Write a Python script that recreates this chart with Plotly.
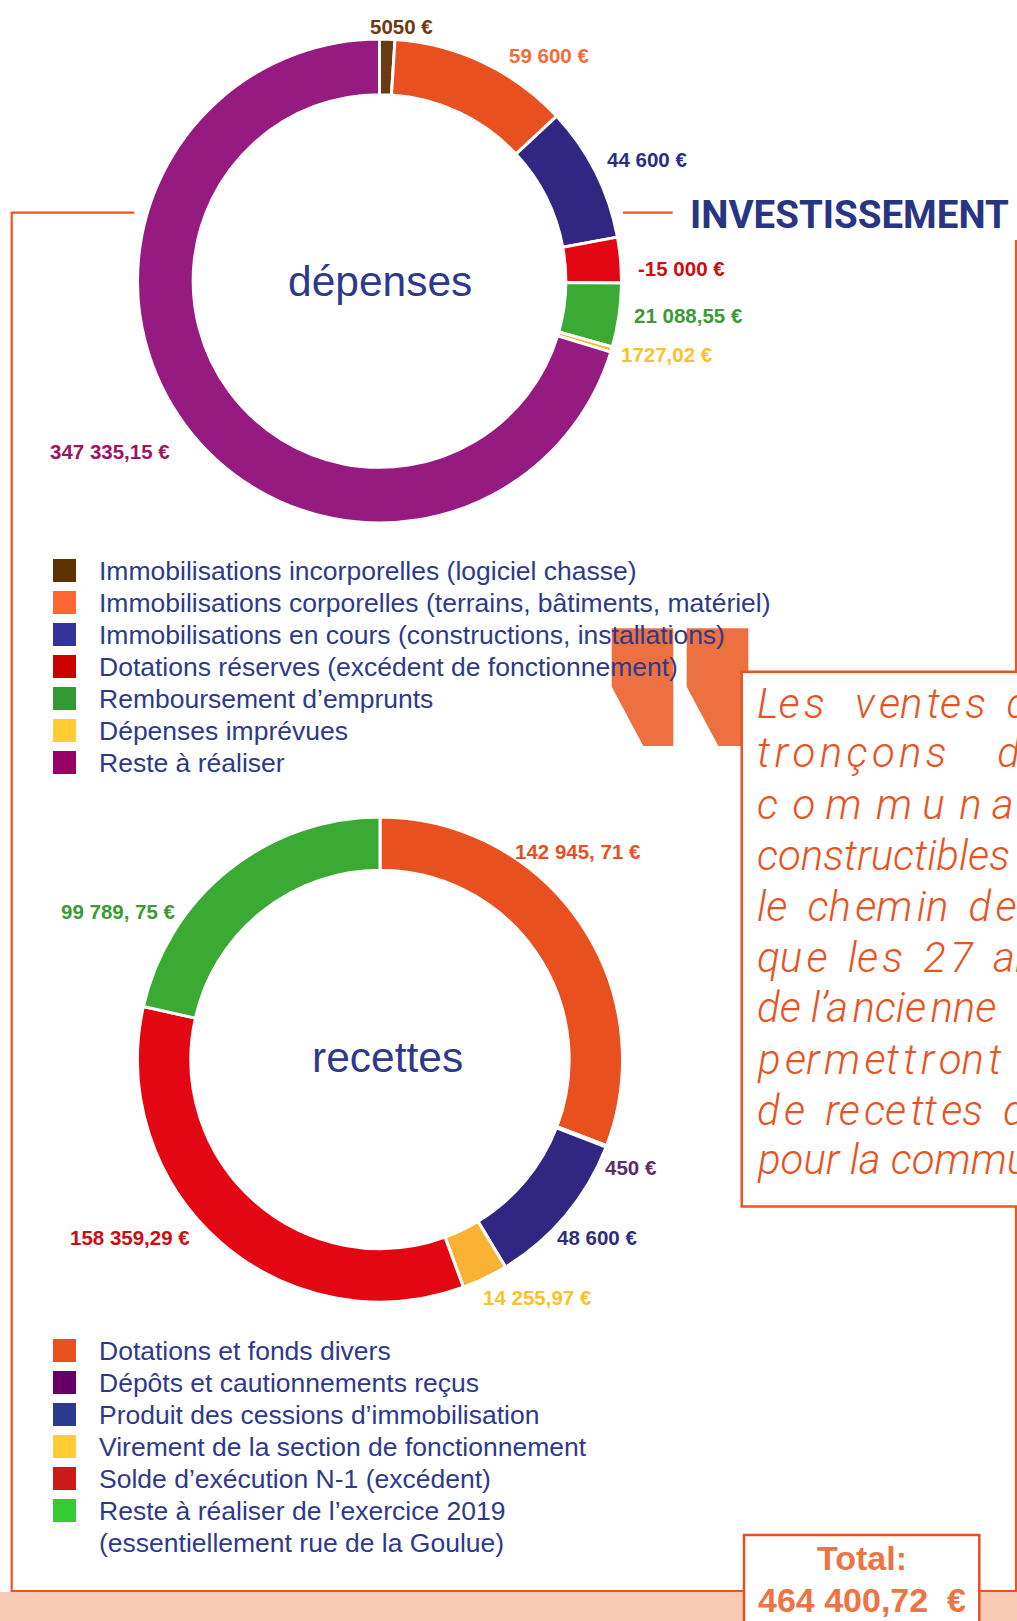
import plotly.graph_objects as go

W, H = 1017, 1621

# ---------------- data ----------------
depenses_labels = [
    "Immobilisations incorporelles (logiciel chasse)",
    "Immobilisations corporelles (terrains, bâtiments, matériel)",
    "Immobilisations en cours (constructions, installations)",
    "Dotations réserves (excédent de fonctionnement)",
    "Remboursement d’emprunts",
    "Dépenses imprévues",
    "Reste à réaliser",
]
depenses_values = [5050, 59600, 44600, -15000, 21088.55, 1727.02, 347335.15]
depenses_text = ["5050 €", "59 600 €", "44 600 €", "-15 000 €", "21 088,55 €", "1727,02 €", "347 335,15 €"]

recettes_labels = [
    "Dotations et fonds divers",
    "Dépôts et cautionnements reçus",
    "Produit des cessions d’immobilisation",
    "Virement de la section de fonctionnement",
    "Solde d’exécution N-1 (excédent)",
    "Reste à réaliser de l’exercice 2019<br>(essentiellement rue de la Goulue)",
]
recettes_values = [142945.71, 450, 48600, 14255.97, 158359.29, 99789.75]
recettes_text = ["142 945, 71 €", "450 €", "48 600 €", "14 255,97 €", "158 359,29 €", "99 789, 75 €"]

total_text = "464 400,72\u00a0\u00a0€"

# quote text (cut by the page edge, as in the original)
quote_words = [
    ["Les", "ventes", "d"],
    ["tronçons", "d"],
    ["c", "o", "m", "m", "u", "n", "a"],
    ["constructibles", "s"],
    ["le", "chemin", "de"],
    ["que", "les", "27", "ar"],
    ["de", "l’ancienne"],
    ["permettront"],
    ["de", "recettes", "d"],
    ["pour", "la", "commu"],
]
# styling of the justified lines: extra hair spaces inside each word, spaces between words
quote_letter_gaps = [[1, 3, 0], [7, 0], [0] * 7, [0, 0], [0, 2, 1], [1, 1, 1, 0], [0, 2], [7], [1, 3, 0], [0, 0, 0]]
quote_word_gaps = [[3, 2], [5], [1] * 6, [1], [2, 2], [2, 2, 2], [1], [], [2, 2], [1, 1]]
quote_word_hairs = [[0, 0], [0], [1, 0, 1, 0, 1, 0], [0], [0, 0], [0, 0, 0], [0], [], [0, 0], [0, 0]]

# ---------------- styles ----------------
dep_slice_colors = ["#6b3a10", "#e9501f", "#312783", "#e30613", "#3aaa35", "#f9b233", "#951b81"]
dep_text_colors = ["#6b3a10", "#f26c3a", "#2d2e83", "#d20a11", "#3a9a35", "#fbc12d", "#a0135e"]
dep_legend_colors = ["#5e3100", "#ff6633", "#333399", "#cc0000", "#339933", "#ffcc33", "#990066"]
dep_label_pos = [(401, 26), (549, 55), (647, 159), (681.5, 268), (688, 315), (667, 354), (110, 451)]

rec_slice_colors = ["#e9501f", "#662483", "#312783", "#f9b233", "#e30613", "#3aaa35"]
rec_text_colors = ["#e9501f", "#5e2a6a", "#2d2e83", "#fbc12d", "#d20a11", "#3a9a35"]
rec_legend_colors = ["#e8501e", "#660066", "#2b3a8c", "#ffcc33", "#cc1a1a", "#33cc33"]
rec_label_pos = [(578, 851), (631, 1167), (597, 1237), (537, 1297), (130, 1237), (118, 911)]

NAVY = "#2d3a8c"
ORANGE_LINE = "#e9541f"
QUOTE_ORANGE = "#e8531f"
LABEL_FONT = "Liberation Sans, Arial, sans-serif"
HAIR = "\u200a"
NBSP = "\u00a0"


def dom(cx, cy, r):
    return dict(x=[(cx - r) / W, (cx + r) / W], y=[1 - (cy + r) / H, 1 - (cy - r) / H])


def spaced(word, n):
    """insert n hair spaces, evenly spread, between the letters of word"""
    gaps = len(word) - 1
    if n <= 0 or gaps <= 0:
        return word
    picks = {min(gaps - 1, int((i + 0.5) * gaps / n)) for i in range(n)}
    out = ""
    for i, ch in enumerate(word):
        out += ch
        if i in picks:
            out += HAIR
    return out


fig = go.Figure()
# empty trace that holds the pixel-space axes used for decorations
fig.add_trace(go.Scatter(x=[], y=[], showlegend=False, hoverinfo="skip"))

fig.add_trace(go.Pie(
    labels=depenses_labels,
    values=[abs(v) for v in depenses_values],
    marker=dict(colors=dep_slice_colors, line=dict(color="white", width=3)),
    hole=0.77, sort=False, direction="clockwise", rotation=0,
    textinfo="none", showlegend=False,
    domain=dom(379.5, 281, 242),
))
fig.add_trace(go.Pie(
    labels=recettes_labels,
    values=recettes_values,
    marker=dict(colors=rec_slice_colors, line=dict(color="white", width=3)),
    hole=0.78, sort=False, direction="clockwise", rotation=0,
    textinfo="none", showlegend=False,
    domain=dom(380, 1059.5, 242.5),
))

shapes = []
annotations = []

# peach band at the bottom
shapes.append(dict(type="rect", x0=0, x1=W, y0=1592, y1=H + 10, fillcolor="#f8cab6",
                   line=dict(width=0), layer="below"))
# frame
shapes.append(dict(type="path", path="M134.3,212.7 L11.7,212.7 L11.7,1591 L1016,1591 L1016,240",
                   line=dict(color=ORANGE_LINE, width=2.2)))
shapes.append(dict(type="line", x0=623, x1=672.7, y0=212.7, y1=212.7,
                   line=dict(color=ORANGE_LINE, width=2.2)))
# quote marks
for x0 in (611.7, 686.7):
    p = (f"M{x0},628.3 L{x0 + 61.6},628.3 L{x0 + 61.6},746 L{x0 + 31.6},746 "
         f"L{x0},686.7 Z")
    shapes.append(dict(type="path", path=p, fillcolor="#ed7140", line=dict(width=0)))
# quote box
shapes.append(dict(type="rect", x0=741.7, x1=1060, y0=671.7, y1=1206.5, fillcolor="white",
                   line=dict(color=ORANGE_LINE, width=2.5)))
# total box
shapes.append(dict(type="rect", x0=744, x1=979.3, y0=1535, y1=1660, fillcolor="white",
                   line=dict(color="#e9501f", width=2.5)))


# legend squares + texts
def add_legend(labels, colors, y_start, step=32):
    row = 0
    for lab, col in zip(labels, colors):
        yc = y_start + row * step
        shapes.append(dict(type="rect", x0=53, x1=76, y0=yc - 11.5, y1=yc + 11.5,
                           fillcolor=col, line=dict(width=0)))
        for k, part in enumerate(lab.split("<br>")):
            annotations.append(dict(x=97, y=yc + k * step, text=part, showarrow=False,
                                    xanchor="left", yanchor="middle",
                                    font=dict(family=LABEL_FONT, size=26.5, color=NAVY)))
            if k > 0:
                row += 1
        row += 1


add_legend(depenses_labels, dep_legend_colors, 570.5)
add_legend(recettes_labels, rec_legend_colors, 1350.5)

# value labels around donuts
for txt, col, (x, y) in zip(depenses_text, dep_text_colors, dep_label_pos):
    annotations.append(dict(x=x, y=y, text=txt, showarrow=False, xanchor="center", yanchor="middle",
                            font=dict(family=LABEL_FONT, size=20.5, color=col, weight="bold")))
for txt, col, (x, y) in zip(recettes_text, rec_text_colors, rec_label_pos):
    annotations.append(dict(x=x, y=y, text=txt, showarrow=False, xanchor="center", yanchor="middle",
                            font=dict(family=LABEL_FONT, size=20.5, color=col, weight="bold")))

# centre texts
annotations.append(dict(x=380, y=281, text="dépenses", showarrow=False, xanchor="center", yanchor="middle",
                        font=dict(family=LABEL_FONT, size=42.5, color=NAVY)))
annotations.append(dict(x=387.5, y=1057, text="recettes", showarrow=False, xanchor="center", yanchor="middle",
                        font=dict(family=LABEL_FONT, size=42.5, color=NAVY)))

# title
annotations.append(dict(x=688, y=214, text="INVESTISSEMENT", showarrow=False, xanchor="left", yanchor="middle",
                        font=dict(family="Roboto, Liberation Sans, sans-serif",
                                  size=38.5, color="#283583", weight="bold")))

# quote text
qsize = 42
baselines = [718.6, 768, 819.5, 871, 922, 973, 1023, 1074.5, 1126, 1175]
for words, lg, wg, wh, b in zip(quote_words, quote_letter_gaps, quote_word_gaps, quote_word_hairs, baselines):
    line = spaced(words[0], lg[0])
    for i in range(1, len(words)):
        line += NBSP * wg[i - 1] + HAIR * wh[i - 1] + spaced(words[i], lg[i])
    annotations.append(dict(x=755, y=b - 0.36 * qsize, text=line, showarrow=False,
                            xanchor="left", yanchor="middle",
                            font=dict(family="Roboto, Liberation Sans, sans-serif", size=qsize,
                                      color=QUOTE_ORANGE, weight=300, style="italic")))

# total
annotations.append(dict(x=862, y=1558, text="Total:", showarrow=False, xanchor="center", yanchor="middle",
                        font=dict(family=LABEL_FONT, size=34, color="#ee7443", weight="bold")))
annotations.append(dict(x=862, y=1600, text=total_text, showarrow=False, xanchor="center", yanchor="middle",
                        font=dict(family=LABEL_FONT, size=34, color="#ee7443", weight="bold")))

fig.update_layout(
    width=W, height=H, autosize=False,
    margin=dict(l=0, r=0, t=0, b=0),
    paper_bgcolor="white", plot_bgcolor="rgba(0,0,0,0)",
    showlegend=False,
    xaxis=dict(range=[0, W], visible=False, fixedrange=True),
    yaxis=dict(range=[H, 0], visible=False, fixedrange=True),
    shapes=shapes, annotations=annotations,
)

fig.write_html("out.html", config={"displayModeBar": False},
               post_script="document.body.style.margin='0';document.body.style.overflow='hidden';")
